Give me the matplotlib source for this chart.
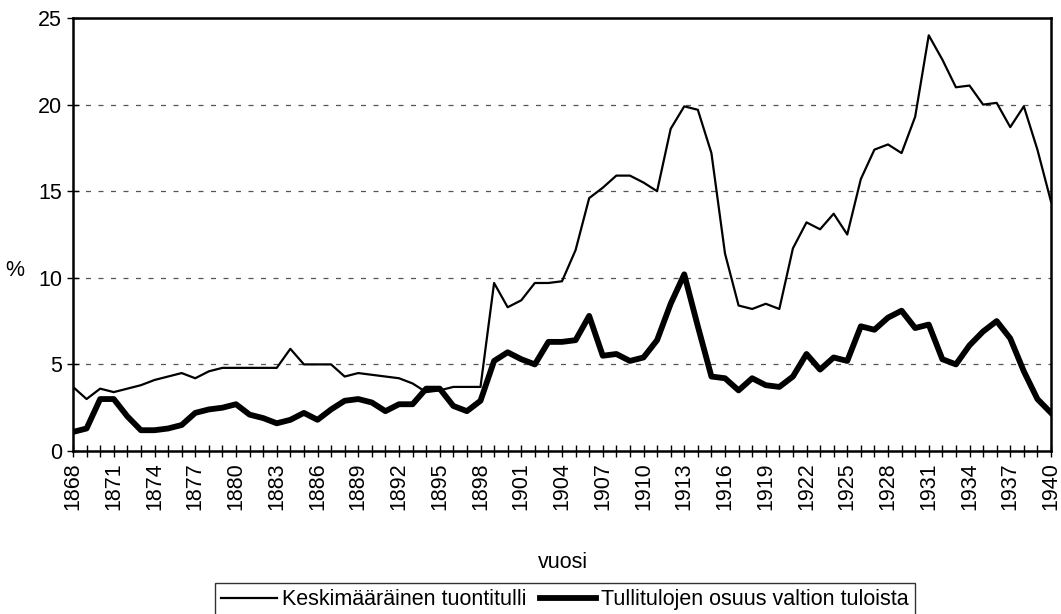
import matplotlib
matplotlib.use("Agg")
import matplotlib.pyplot as plt

plt.rcParams['font.family'] = ['Liberation Sans', 'DejaVu Sans']

years = list(range(1868, 1941))
tuontitulli = [3.7, 3.0, 3.6, 3.4, 3.6, 3.8, 4.1, 4.3, 4.5, 4.2, 4.6, 4.8,
               4.8, 4.8, 4.8, 4.8, 5.9, 5.0, 5.0, 5.0, 4.3, 4.5, 4.4, 4.3,
               4.2, 3.9, 3.4, 3.5, 3.7, 3.7, 3.7, 9.7, 8.3, 8.7, 9.7, 9.7,
               9.8, 11.6, 14.6, 15.2, 15.9, 15.9, 15.5, 15.0, 18.6, 19.9,
               19.7, 17.2, 11.4, 8.4, 8.2, 8.5, 8.2, 11.7, 13.2, 12.8, 13.7,
               12.5, 15.7, 17.4, 17.7, 17.2, 19.3, 24.0, 22.6, 21.0, 21.1,
               20.0, 20.1, 18.7, 19.9, 17.4, 14.4]
tulliosuus = [1.1, 1.3, 3.0, 3.0, 2.0, 1.2, 1.2, 1.3, 1.5, 2.2, 2.4, 2.5,
              2.7, 2.1, 1.9, 1.6, 1.8, 2.2, 1.8, 2.4, 2.9, 3.0, 2.8, 2.3,
              2.7, 2.7, 3.6, 3.6, 2.6, 2.3, 2.9, 5.2, 5.7, 5.3, 5.0, 6.3,
              6.3, 6.4, 7.8, 5.5, 5.6, 5.2, 5.4, 6.4, 8.5, 10.2, 7.2, 4.3,
              4.2, 3.5, 4.2, 3.8, 3.7, 4.3, 5.6, 4.7, 5.4, 5.2, 7.2, 7.0,
              7.7, 8.1, 7.1, 7.3, 5.3, 5.0, 6.1, 6.9, 7.5, 6.5, 4.6, 3.0, 2.2]
label_thin = "Keskimääräinen tuontitulli"
label_thick = "Tullitulojen osuus valtion tuloista"

FS = 15.5

fig = plt.figure(figsize=(10.61, 6.14), dpi=100)
ax = fig.add_axes([73/1061, 1 - 451/614, (1051-73)/1061, (451-18)/614])

ax.plot(years, tuontitulli, color='black', lw=1.6, label=label_thin, zorder=3)
ax.plot(years, tulliosuus, color='black', lw=4.2, label=label_thick, zorder=3)

ax.set_xlim(1868, 1940)
ax.set_ylim(0, 25)
ax.set_yticks([0, 5, 10, 15, 20, 25])
ax.set_xticks(years)
ax.set_xticklabels([str(y) if (y - 1868) % 3 == 0 else '' for y in years],
                   rotation=90, fontsize=FS)
ax.tick_params(axis='x', direction='inout', length=8, width=1, pad=4)
ax.tick_params(axis='y', direction='inout', length=8, width=1, labelsize=FS, pad=4)
for y in [5, 10, 15, 20]:
    ax.axhline(y, color='#555555', lw=0.9, ls=(0, (4, 6)), zorder=1)
for s in ax.spines.values():
    s.set_linewidth(1.8)
    s.set_color('black')

fig.text(15/1061, 1 - 270/614, '%', fontsize=FS, ha='center', va='center')
fig.text(563/1061, 1 - 563/614, 'vuosi', fontsize=FS, ha='center', va='center')

leg = fig.legend(loc='upper center', bbox_to_anchor=(565/1061, 1 - 583/614),
                 ncol=2, fontsize=FS, frameon=True, fancybox=False,
                 edgecolor='black', handlelength=2.6, handletextpad=0.25,
                 columnspacing=0.6, borderpad=0.3, borderaxespad=0)
leg.get_frame().set_linewidth(1.0)

fig.savefig('out.png', dpi=100)
